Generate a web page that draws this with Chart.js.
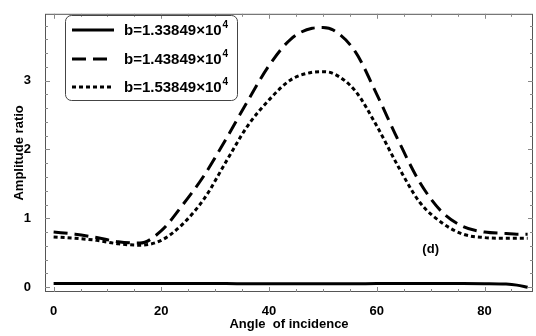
<!DOCTYPE html>
<html>
<head>
<meta charset="utf-8">
<script src="https://cdn.jsdelivr.net/npm/chart.js@4"></script>
<style>
  html, body { margin: 0; padding: 0; background: #fff; }
  #wrap { width: 536px; height: 336px; position: relative; }
</style>
</head>
<body>
<div id="wrap"><canvas id="ampChart"></canvas></div>
<script>
const angles = [0, 4, 8, 12, 16, 20, 24, 28, 32, 36, 40, 44, 48, 50, 52, 56, 60, 64, 68, 72, 76, 80, 84, 86, 88];
const ampSolid  = [0.055, 0.055, 0.054, 0.054, 0.053, 0.053, 0.052, 0.052, 0.052, 0.051, 0.051, 0.051, 0.051, 0.051, 0.051, 0.051, 0.052, 0.052, 0.052, 0.052, 0.052, 0.051, 0.045, 0.03, 0.0];
const ampDashed = [0.80, 0.77, 0.72, 0.66, 0.64, 0.82, 1.20, 1.63, 2.15, 2.70, 3.22, 3.60, 3.76, 3.77, 3.73, 3.42, 2.80, 2.13, 1.52, 1.10, 0.88, 0.80, 0.78, 0.77, 0.77];
const ampDotted = [0.73, 0.71, 0.68, 0.63, 0.61, 0.68, 0.92, 1.29, 1.82, 2.34, 2.72, 3.01, 3.12, 3.13, 3.10, 2.85, 2.34, 1.75, 1.23, 0.94, 0.77, 0.72, 0.71, 0.71, 0.71];
const seriesLabels = ["b=1.33849×10", "b=1.43849×10", "b=1.53849×10"];
const xTicks = [0, 20, 40, 60, 80];
const yTicks = [0, 1, 2, 3];

const FONT = "'Liberation Sans', Arial, sans-serif";

function pts(ys) {
  return angles.map((a, i) => ({ x: a, y: ys[i] }));
}

const framePlugin = {
  id: "frame",
  afterDraw(chart) {
    const ctx = chart.ctx;
    const a = chart.chartArea;
    const xs = chart.scales.x, ys = chart.scales.y;
    ctx.save();
    // frame
    ctx.strokeStyle = "#555";
    ctx.lineWidth = 1;
    ctx.strokeRect(a.left + 0.5, a.top + 0.5, a.right - a.left - 1, a.bottom - a.top - 1);
    // ticks
    ctx.strokeStyle = "#888";
    ctx.beginPath();
    for (let v = 0; v <= 85; v += 5) {
      const px = Math.round(xs.getPixelForValue(v)) + 0.5;
      const len = v % 20 === 0 ? 5 : 3;
      ctx.moveTo(px, a.bottom); ctx.lineTo(px, a.bottom - len);
      ctx.moveTo(px, a.top); ctx.lineTo(px, a.top + len);
    }
    for (let v = 0; v <= 3.9; v += 0.2) {
      const py = Math.round(ys.getPixelForValue(v)) + 0.5;
      const major = Math.abs(v - Math.round(v)) < 0.01;
      const len = major ? 5 : 3;
      ctx.moveTo(a.left, py); ctx.lineTo(a.left + len, py);
      ctx.moveTo(a.right, py); ctx.lineTo(a.right - len, py);
    }
    ctx.stroke();

    // panel label
    ctx.fillStyle = "#000";
    ctx.font = "bold 13px " + FONT;
    ctx.textAlign = "center";
    ctx.textBaseline = "middle";
    ctx.fillText("(d)", xs.getPixelForValue(70), ys.getPixelForValue(0.55));

    // legend box
    const bx = 65, by = 15, bw = 172, bh = 85, r = 6;
    ctx.strokeStyle = "#444";
    ctx.lineWidth = 1;
    ctx.beginPath();
    ctx.roundRect(bx + 0.5, by + 0.5, bw, bh, r);
    ctx.stroke();
    const rows = [30, 59, 87];
    chart.data.datasets.forEach((ds, i) => {
      const y = rows[i];
      ctx.strokeStyle = "#000";
      ctx.lineWidth = 3;
      ctx.setLineDash(ds.borderDash || []);
      ctx.beginPath();
      ctx.moveTo(72, y); ctx.lineTo(114, y);
      ctx.stroke();
      ctx.setLineDash([]);
      ctx.textAlign = "left";
      ctx.textBaseline = "middle";
      ctx.font = "bold 15px " + FONT;
      ctx.fillText(ds.label, 124, y + 1);
      const w = ctx.measureText(ds.label).width;
      ctx.font = "bold 10px " + FONT;
      ctx.fillText("4", 124 + w + 1, y - 5);
    });
    ctx.restore();
  }
};

new Chart(document.getElementById("ampChart"), {
  type: "line",
  data: {
    datasets: [
      { label: seriesLabels[0], data: pts(ampSolid), borderColor: "#000", borderWidth: 3, borderDash: [] },
      { label: seriesLabels[1], data: pts(ampDashed), borderColor: "#000", borderWidth: 3, borderDash: [14, 7] },
      { label: seriesLabels[2], data: pts(ampDotted), borderColor: "#000", borderWidth: 3, borderDash: [4, 3] }
    ]
  },
  options: {
    responsive: true,
    maintainAspectRatio: false,
    animation: false,
    layout: { padding: { top: 7, right: 3, left: 8, bottom: 0 } },
    elements: {
      point: { radius: 0 },
      line: { cubicInterpolationMode: "monotone", fill: false }
    },
    plugins: { legend: { display: false }, tooltip: { enabled: false } },
    scales: {
      x: {
        type: "linear",
        min: -1.6, max: 89,
        grid: { display: false },
        border: { display: false },
        afterBuildTicks: s => { s.ticks = xTicks.map(v => ({ value: v })); },
        afterFit: s => { s.height = 44; },
        ticks: { color: "#000", font: { family: FONT, size: 13, weight: "bold" }, padding: 4, maxRotation: 0 },
        title: { display: true, text: "Angle  of incidence", color: "#000", font: { family: FONT, size: 13, weight: "bold" }, padding: { top: 2 } }
      },
      y: {
        min: -0.07, max: 3.97,
        grid: { display: false },
        border: { display: false },
        afterBuildTicks: s => { s.ticks = yTicks.map(v => ({ value: v })); },
        afterFit: s => { s.width = 37; },
        ticks: { color: "#000", font: { family: FONT, size: 13, weight: "bold" }, padding: 6 },
        title: { display: true, text: "Amplitude ratio", color: "#000", font: { family: FONT, size: 13, weight: "bold" }, padding: { bottom: 4 } }
      }
    }
  },
  plugins: [framePlugin]
});
</script>
</body>
</html>
